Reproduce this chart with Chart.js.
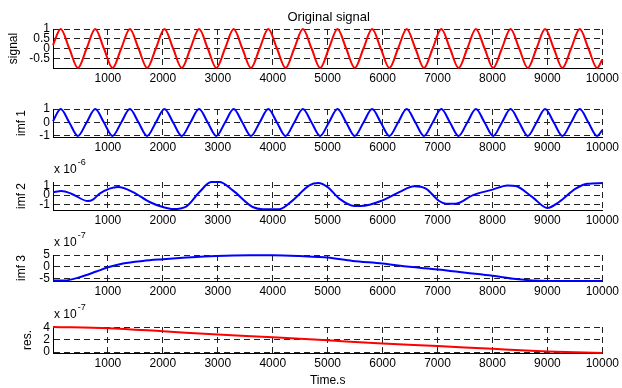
<!DOCTYPE html>
<html lang="en">

<head>
    <meta charset="UTF-8" />
    <title>EMD</title>
    <style>
        * {
            margin: 0;
            padding: 0;
        }

        body {
            background: #fff;
        }

        .fig {
            position: relative;
            width: 622px;
            height: 388px;
            overflow: hidden;
        }

        .fig canvas {
            position: absolute;
            left: 0;
        }
    </style>
</head>

<body>
    <div class="fig">
        <canvas id="p1"></canvas>
        <canvas id="p2"></canvas>
        <canvas id="p3"></canvas>
        <canvas id="p4"></canvas>
        <canvas id="p5"></canvas>
    </div>
    <script src="https://cdn.jsdelivr.net/npm/chart.js@4.4.1/dist/chart.umd.min.js"></script>
    <script>
        // time axis
        const xTicks = [1000, 2000, 3000, 4000, 5000, 6000, 7000, 8000, 9000, 10000];

        // peaks / zero crossings / troughs of the sine-like signal
        const waveT = [0, 139, 297, 454, 612, 769, 927, 1084, 1242, 1399, 1557, 1714, 1872, 2029, 2187, 2344,
            2502, 2659, 2817, 2974, 3132, 3289, 3447, 3604, 3762, 3919, 4077, 4234, 4392, 4549, 4707, 4864,
            5022, 5179, 5337, 5494, 5652, 5809, 5967, 6124, 6282, 6439, 6597, 6754, 6912, 7069, 7227, 7384,
            7542, 7699, 7857, 8014, 8172, 8329, 8487, 8644, 8802, 8959, 9117, 9274, 9432, 9589, 9747, 9904, 10000];
        const signalV = [0.18, 1, 0, -1, 0, 1, 0, -1, 0, 1, 0, -1, 0, 1, 0, -1, 0,
            1, 0, -1, 0, 1, 0, -1, 0, 1, 0, -1, 0, 1, 0, -1, 0,
            1, 0, -1, 0, 1, 0, -1, 0, 1, 0, -1, 0, 1, 0, -1, 0,
            1, 0, -1, 0, 1, 0, -1, 0, 1, 0, -1, 0, 1, 0, -1, -0.57];
        const imf1V = [0.1, 1, 0, -1, 0, 1, 0, -1, 0, 1, 0, -1, 0, 1, 0, -1, 0,
            1, 0, -1, 0, 1, 0, -1, 0, 1, 0, -1, 0, 1, 0, -1, 0,
            1, 0, -1, 0, 1, 0, -1, 0, 1, 0, -1, 0, 1, 0, -1, 0,
            1, 0, -1, 0, 1, 0, -1, 0, 1, 0, -1, 0, 1, 0, -1, -0.57];

        // imf 2, units of 1e-6
        const imf2T = [0, 152, 334, 636, 727, 849, 1182, 1455, 1758, 2000, 2182, 2424, 2667, 2879, 3030, 3273,
            3636, 3818, 4121, 4364, 4667, 4830, 5000, 5212, 5485, 5606, 6000, 6303, 6576, 6788, 7030, 7152,
            7333, 7636, 8000, 8273, 8424, 8727, 9000, 9212, 9515, 9727, 10000];
        const imf2V = [0.31, 0.41, 0.14, -0.62, -0.47, 0.14, 0.82, 0.31, -0.72, -1.24, -1.45, -1.2, 0.31, 1.34,
            1.34, 0.48, -1.24, -1.47, -1.47, -0.55, 1.0, 1.24, 0.82, -0.37, -1.13, -1.13, -0.55, 0.31, 0.9,
            0.66, -0.62, -0.89, -0.89, -0.03, 0.56, 1.0, 0.93, -0.21, -1.34, -0.72, 0.66, 1.17, 1.24];

        // imf 3, units of 1e-7
        const imf3T = [0, 212, 485, 788, 1000, 1273, 1636, 2000, 2424, 2970, 3576, 4000, 4485, 4818, 5000,
            5455, 6000, 6485, 7000, 7515, 8000, 8424, 8727, 9000, 10000];
        const imf3V = [-5.8, -5.8, -4.4, -2.0, -0.2, 1.4, 2.5, 3.2, 3.9, 4.6, 4.9, 4.9, 4.6, 4.2, 3.9,
            2.5, 1.4, 0, -1.1, -2.5, -3.8, -5.2, -5.8, -6.0, -6.0];

        // residue, units of 1e-7
        const resT = [0, 1000, 2000, 3000, 4000, 5000, 6000, 7000, 8000, 9000, 10000];
        const resV = [4.1, 3.9, 3.4, 2.86, 2.44, 1.92, 1.4, 0.98, 0.52, 0.1, -0.16];

        Chart.defaults.font.family = "'Liberation Sans', Arial, Helvetica, sans-serif";
        Chart.defaults.font.size = 12;
        Chart.defaults.color = "#000";

        const FIG_W = 622;

        function pts(t, v) {
            return t.map((x, i) => ({ x: x, y: v[i] }));
        }

        function makePanel(p) {
            const cv = document.getElementById(p.id);
            const h = p.padTop + (p.bottom - p.top) + p.axisH;
            cv.width = FIG_W;
            cv.height = h;
            cv.style.top = (p.top - p.padTop) + "px";

            const textPlugin = {
                id: "figText",
                afterDraw(chart) {
                    const c = chart.ctx;
                    const a = chart.chartArea;
                    c.save();
                    c.fillStyle = "#000";
                    c.textBaseline = "alphabetic";
                    if (p.title) {
                        c.font = "13px 'Liberation Sans', Arial, sans-serif";
                        c.textAlign = "center";
                        c.fillText(p.title, (a.left + a.right) / 2 + 1, a.top - 8);
                    }
                    if (p.exp) {
                        c.font = "12px 'Liberation Sans', Arial, sans-serif";
                        c.textAlign = "left";
                        c.fillText("x 10", a.left + 1, a.top - 9);
                        const w = c.measureText("x 10").width;
                        c.font = "9px 'Liberation Sans', Arial, sans-serif";
                        c.fillText(p.exp, a.left + 2 + w, a.top - 17);
                    }
                    c.restore();
                }
            };

            return new Chart(cv, {
                type: "line",
                data: {
                    datasets: [{
                        data: pts(p.t, p.v),
                        borderColor: p.color,
                        borderWidth: 2,
                        pointRadius: 0,
                        cubicInterpolationMode: "monotone",
                        clip: 4,
                    }]
                },
                plugins: [textPlugin],
                options: {
                    responsive: false,
                    animation: false,
                    events: [],
                    layout: {
                        padding: { left: 0, right: 19, top: p.padTop, bottom: 0 }
                    },
                    scales: {
                        x: {
                            type: "linear",
                            min: 0,
                            max: 10000,
                            afterBuildTicks: (s) => { s.ticks = xTicks.map(v => ({ value: v })); },
                            afterFit: (s) => { s.height = p.axisH; },
                            ticks: {
                                autoSkip: false,
                                maxRotation: 0,
                                padding: 3,
                                callback: (v) => String(v),
                            },
                            grid: { color: "#222", lineWidth: 1, drawTicks: false },
                            border: { display: true, color: "#000", width: 1, dash: [6, 4] },
                            title: {
                                display: !!p.xTitle,
                                text: p.xTitle || "",
                                font: { size: 12 },
                                padding: { top: 0, bottom: 0 },
                            },
                        },
                        y: {
                            type: "linear",
                            min: p.min,
                            max: p.max,
                            afterBuildTicks: (s) => { s.ticks = p.yTicks.map(v => ({ value: v })); },
                            afterFit: (s) => { s.width = 53; },
                            ticks: {
                                autoSkip: false,
                                padding: 3,
                                callback: (v) => String(v),
                            },
                            grid: { color: "#222", lineWidth: 1, drawTicks: false },
                            border: { display: true, color: "#000", width: 1, dash: [6, 4] },
                            title: {
                                display: true,
                                text: p.yTitle,
                                font: { size: 12 },
                                padding: { top: p.yTitlePad, bottom: 0 },
                            },
                        },
                    },
                    plugins: {
                        legend: { display: false },
                        tooltip: { enabled: false },
                    },
                },
            });
        }

        makePanel({
            id: "p1", top: 29, bottom: 68, padTop: 29, axisH: 22,
            t: waveT, v: signalV, color: "#ff0000",
            min: -1, max: 1, yTicks: [-0.5, 0, 0.5, 1],
            yTitle: "signal", yTitlePad: 6, title: "Original signal",
        });
        makePanel({
            id: "p2", top: 109, bottom: 137, padTop: 27, axisH: 22,
            t: waveT, v: imf1V, color: "#0000ff",
            min: -1.08, max: 1, yTicks: [-1, 0, 1],
            yTitle: "imf 1", yTitlePad: 14.5,
        });
        makePanel({
            id: "p3", top: 182, bottom: 210, padTop: 28, axisH: 22,
            t: imf2T, v: imf2V, color: "#0000ff",
            min: -1.55, max: 1.35, yTicks: [-1, 0, 1],
            yTitle: "imf 2", yTitlePad: 14.5, exp: "-6",
        });
        makePanel({
            id: "p4", top: 255, bottom: 281, padTop: 28, axisH: 22,
            t: imf3T, v: imf3V, color: "#0000ff",
            min: -6.0, max: 5.0, yTicks: [-5, 0, 5],
            yTitle: "imf 3", yTitlePad: 14.5, exp: "-7",
        });
        makePanel({
            id: "p5", top: 327, bottom: 353, padTop: 28, axisH: 35,
            t: resT, v: resV, color: "#ff0000",
            min: -0.16, max: 4.1, yTicks: [0, 2, 4],
            yTitle: "res.", yTitlePad: 20.5, exp: "-7", xTitle: "Time.s",
        });
    </script>
</body>

</html>
